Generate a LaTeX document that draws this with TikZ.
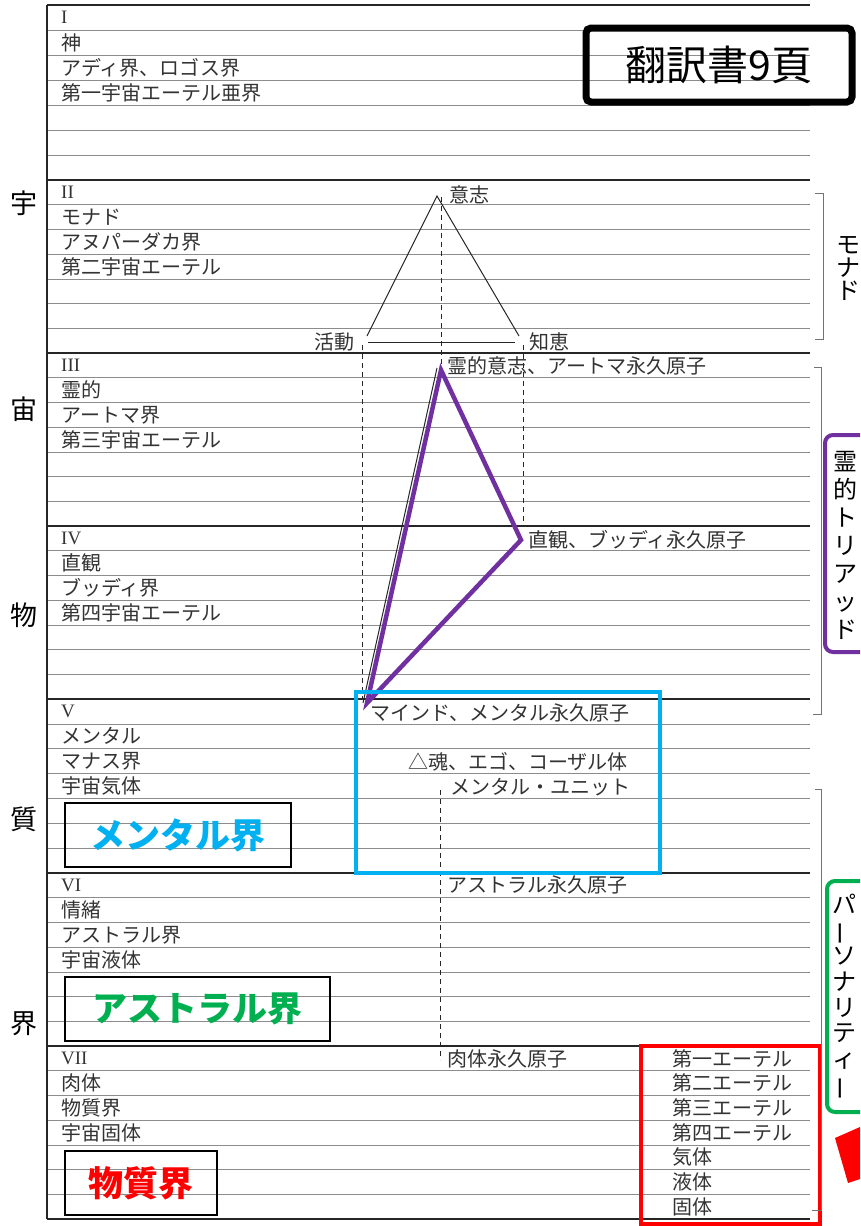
\documentclass[tikz,border=0pt]{standalone}
\usepackage{fontspec}
\usepackage{graphicx}
\setmainfont{Noto Sans CJK JP}
\newfontfamily\romfont{Liberation Serif}
\definecolor{violett}{HTML}{7030A0}
\definecolor{cyanblue}{HTML}{00B0F0}
\definecolor{grun}{HTML}{00B050}
\newcommand{\vbar}{\rotatebox[origin=c]{90}{ー}}

\tikzset{
  secline/.style={line width=1.6pt, black!85},
  rowline/.style={line width=0.7pt, black!45},
  dashline/.style={line width=1pt, black!85, dash pattern=on 5pt off 4pt},
  bracket/.style={line width=0.6pt, black!55},
  txt/.style={anchor=west, inner sep=0pt, text=black!80, font=\fontsize{20}{20}\selectfont},
  rom/.style={anchor=west, inner sep=0pt, text=black!80, font=\romfont\fontsize{19}{19}\selectfont},
  side/.style={inner sep=0pt, font=\fontsize{27}{27}\selectfont},
  vtext/.style={align=center, inner sep=0pt},
  planebox/.style={draw=black, line width=2.2pt, minimum height=64pt, inner sep=0pt,
    font=\bfseries\fontsize{35}{35}\selectfont},
}

\begin{document}
\begin{tikzpicture}[x=1pt,y=-1pt]
  \useasboundingbox (0,0) rectangle (860,1226);
  \clip (0,0) rectangle (860,1226);

  % Rows and section texts
  \foreach \ya/\yb/\n/\a/\b/\c [count=\s] in {
      5/180/I/{神}/{アディ界、ロゴス界}/{第一宇宙エーテル亜界},
      180/353/II/{モナド}/{アヌパーダカ界}/{第二宇宙エーテル},
      353/526/III/{霊的}/{アートマ界}/{第三宇宙エーテル},
      526/699/IV/{直観}/{ブッディ界}/{第四宇宙エーテル},
      699/873/V/{メンタル}/{マナス界}/{宇宙気体},
      873/1046/VI/{情緒}/{アストラル界}/{宇宙液体},
      1046/1219/VII/{肉体}/{物質界}/{宇宙固体}} {
    \foreach \k in {1,...,6}
      \draw[rowline] (47,{\ya+(\yb-\ya)*\k/7}) -- (810,{\ya+(\yb-\ya)*\k/7});
    \node[rom] (num\s) at (61,{\ya+(\yb-\ya)*0.5/7}) {\n};
    \node[txt] (ta\s) at (61,{\ya+(\yb-\ya)*1.5/7}) {\a};
    \node[txt] (tb\s) at (61,{\ya+(\yb-\ya)*2.5/7}) {\b};
    \node[txt] (tc\s) at (61,{\ya+(\yb-\ya)*3.5/7}) {\c};
  }

  % Section lines
  \foreach \y in {5,180,353,526,699,873,1046,1219}
    \draw[secline] (47,\y) -- (810,\y);
  \draw[secline] (47,5) -- (47,1219);

  % Left labels
  \node[side] (u1) at (24,203) {宇};
  \node[side] (u2) at (24,409) {宙};
  \node[side] (u3) at (24,615) {物};
  \node[side] (u4) at (24,819) {質};
  \node[side] (u5) at (24,1024) {界};

  % Monad triangle
  \coordinate (will) at (437,196);
  \coordinate (act) at (367,336);
  \coordinate (wis) at (519,336);
  \coordinate (actb) at (368,342);
  \coordinate (wisb) at (515,342);
  \draw[line width=1pt, black!85] (act) -- (will) -- (wis);
  \draw[line width=1pt, black!85] (actb) -- (wisb);
  \node[txt] (l-will) at (449,195) {意志};
  \node[txt, anchor=east] (l-act) at (355,342) {活動};
  \node[txt] (l-wis) at (529,342) {知恵};

  % Dashed verticals
  \coordinate (d1a) at (441,197);  \coordinate (d1b) at (441,366);
  \coordinate (d2a) at (362,345);  \coordinate (d2b) at (362,699);
  \coordinate (d3a) at (523,345);  \coordinate (d3b) at (523,527);
  \coordinate (d4a) at (440,790);  \coordinate (d4b) at (440,1060);
  \draw[dashline] (d1a) -- (d1b);
  \draw[dashline] (d2a) -- (d2b);
  \draw[dashline] (d3a) -- (d3b);
  \draw[dashline] (d4a) -- (d4b);

  % Spiritual triad
  \coordinate (atma) at (441,370);
  \coordinate (buddhi) at (521,540);
  \coordinate (manas) at (367,703);
  \coordinate (atmal) at (437,368);
  \coordinate (manasl) at (363,703);
  \draw[line width=1pt, black!85] (atmal) -- (manasl);
  \draw[violett, line width=4.5pt, line join=miter] (atma) -- (buddhi) -- (manas) -- cycle;

  % Permanent atoms
  \node[txt] (p-atma) at (447,366) {霊的意志、アートマ永久原子};
  \node[txt] (p-buddhi) at (528,540) {直観、ブッディ永久原子};
  \node[txt] (p-manas) at (370,713) {マインド、メンタル永久原子};
  \node[txt] (p-soul) at (408,762) {△魂、エゴ、コーザル体};
  \node[txt] (p-unit) at (450,787) {メンタル・ユニット};
  \node[txt] (p-astral) at (447,885) {アストラル永久原子};
  \node[txt] (p-phys) at (447,1059) {肉体永久原子};

  % Ethers
  \foreach \e [count=\i from 0] in {第一エーテル,第二エーテル,第三エーテル,第四エーテル,気体,液体,固体}
    \node[txt] (eth\i) at (672,{1046+(\i+0.5)*24.7}) {\e};

  % Coloured frames
  \draw[cyanblue, line width=4.5pt] (356,692) rectangle (660,873);
  \draw[red, line width=4.5pt] (641,1046) rectangle (820,1224);

  % Plane labels
  \node[planebox, minimum width=226pt, text=cyanblue] (mental) at (178,835) {メンタル界};
  \node[planebox, minimum width=265pt, text=grun] (astral) at (197.5,1009) {アストラル界};
  \node[planebox, minimum width=152pt, text=red] (physical) at (141,1183) {物質界};

  % Page box
  \node[draw=black, line width=7pt, rounded corners=5pt, minimum width=266pt, minimum height=74pt,
    inner sep=0pt, font=\fontsize{41}{41}\selectfont] (page) at (719,65) {翻訳書9頁};

  % Brackets on the right
  \draw[bracket] (815,193) -- (823,193) -- (823,339) -- (815,339);
  \draw[bracket] (814,367) -- (821,367) -- (821,714) -- (813,714);
  \draw[bracket] (815,789) -- (821,789) -- (821,1210) -- (812,1210);

  % Right labels
  \node[vtext, font=\fontsize{24}{23}\selectfont] (monad) at (848,268) {モ\\ナ\\ド};
  \draw[violett, line width=4pt, rounded corners=8pt] (825,435) rectangle (885,652);
  \node[vtext, font=\fontsize{24}{28}\selectfont] (triad) at (845,545) {霊\\的\\ト\\リ\\ア\\ッ\\ド};
  \draw[grun, line width=4pt, rounded corners=8pt] (827,881) rectangle (885,1112);
  \node[vtext, font=\fontsize{24}{25.7}\selectfont] (pers) at (844,997) {パ\\\vbar\\ソ\\ナ\\リ\\テ\\ィ\\\vbar};

  % Red mark
  \fill[red] (835,1138) -- (860,1127) -- (860,1179) -- (848,1183) -- cycle;
\end{tikzpicture}
\end{document}
